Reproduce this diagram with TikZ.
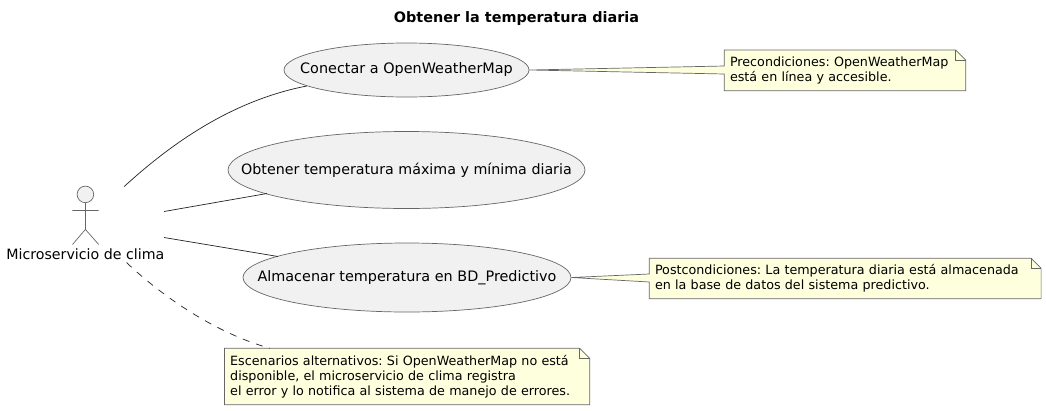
\documentclass[tikz,border=0pt]{standalone}
\usepackage{fontspec}
\setmainfont{DejaVu Sans}
\usetikzlibrary{shapes.geometric,calc}
\pgfdeclarelayer{bg}
\pgfsetlayers{bg,main}
\definecolor{notefill}{HTML}{FEFFDD}
\definecolor{ucfill}{HTML}{F1F1F1}
\definecolor{edge}{HTML}{666666}
\definecolor{connline}{HTML}{222222}
\tikzset{
  x=1pt,y=-1pt,
  usecase/.style={ellipse,draw=edge,line width=.7pt,fill=ucfill,inner sep=0pt,font=\fontsize{14.4}{16}\selectfont},
  notebox/.style={rectangle,inner xsep=5.5pt,inner ysep=0pt,align=left,anchor=north west,font=\frenchspacing\fontsize{12.72}{15.2}\selectfont},
  noteshape/.style={draw=edge,line width=.7pt,fill=notefill,line join=miter},
  conn/.style={draw=connline,line width=.7pt},
  stick/.style={draw=edge,line width=.7pt},
}
\newcommand{\wedgenote}[3]{% node, tip, y of wedge centre
  \begin{pgfonlayer}{bg}
  \path[noteshape] (#1.north west) -- ($(#1.north east)+(-10,0)$) -- ($(#1.north east)+(0,10)$) -- (#1.south east) -- (#1.south west)
     -- (#1.west |- 0,#3+4) -- (#2) -- (#1.west |- 0,#3-4) -- cycle;
  \draw[edge,line width=.7pt] ($(#1.north east)+(-10,0)$) -- ($(#1.north east)+(-10,10)$) -- ($(#1.north east)+(0,10)$);
  \end{pgfonlayer}
}
\newcommand{\plainnote}[1]{%
  \begin{pgfonlayer}{bg}
  \path[noteshape] (#1.north west) -- ($(#1.north east)+(-10,0)$) -- ($(#1.north east)+(0,10)$) -- (#1.south east) -- (#1.south west) -- cycle;
  \draw[edge,line width=.7pt] ($(#1.north east)+(-10,0)$) -- ($(#1.north east)+(-10,10)$) -- ($(#1.north east)+(0,10)$);
  \end{pgfonlayer}
}
\begin{document}
\begin{tikzpicture}
\useasboundingbox (0,0) rectangle (1046,410);

\node[font=\fontsize{14.4}{16}\selectfont\bfseries] (title) at (516.5,18.5) {Obtener la temperatura diaria};

% actor
\node[circle,draw=edge,line width=.7pt,fill=ucfill,minimum size=16.6pt,inner sep=0pt] (head) at (85.4,194.4) {};
\coordinate (hip) at (85.4,229.4);
\coordinate (armL) at (72.3,210.4);
\coordinate (armR) at (98.7,210.4);
\coordinate (legL) at (72.5,244.5);
\coordinate (legR) at (98.7,244.5);
\path[stick] (head.south) -- (hip) (armL) -- (armR) (legL) -- (hip) -- (legR);
\node[font=\fontsize{14.2}{16}\selectfont,inner sep=0pt] (actor) at (85.3,254) {Microservicio de clima};

% use cases
\node[usecase,minimum width=245pt,minimum height=54pt] (uc1) at (406.5,70) {\makebox[0pt]{Conectar a OpenWeatherMap}};
\node[usecase,minimum width=357pt,minimum height=77pt] (uc2) at (406.5,170) {\fontsize{14.25}{16}\selectfont\makebox[0pt]{Obtener temperatura máxima y mínima diaria}};
\node[usecase,minimum width=328pt,minimum height=69pt] (uc3) at (407,277.5) {\makebox[0pt]{Almacenar temperatura en BD\_Predictivo}};

% notes
\node[notebox,text width=230pt,minimum height=40.3pt] (n1) at (724.3,50) {Precondiciones: OpenWeatherMap\\está en línea y accesible.};
\node[notebox,text width=380.4pt,minimum height=40pt] (n2) at (649.3,258.3) {Postcondiciones: La temperatura diaria está almacenada\\en la base de datos del sistema predictivo.};
\node[notebox,text width=353.8pt,minimum height=56pt] (n3) at (224.5,348.3) {Escenarios alternativos: Si OpenWeatherMap no está\\disponible, el microservicio de clima registra\\el error y lo notifica al sistema de manejo de errores.};

\wedgenote{n1}{uc1.east}{70}
\wedgenote{n2}{uc3.east}{278}
\plainnote{n3}

% connectors
\coordinate (a1) at (124,186.7);
\coordinate (a2) at (164,211.5);
\coordinate (a3) at (164,237.5);
\coordinate (a4) at (126.5,262.5);
\coordinate (e1) at (306.7,86);
\coordinate (e2) at (267,193.5);
\coordinate (e3) at (278,256.5);
\coordinate (e4) at (270,348.3);
\draw[conn] (a1) .. controls (175,140) and (235,100) .. (e1);
\draw[conn] (a2) -- (e2);
\draw[conn] (a3) -- (e3);
\draw[conn,dash pattern=on 7pt off 7pt] (a4) .. controls (150,285) and (205,330) .. (e4);
\end{tikzpicture}
\end{document}
